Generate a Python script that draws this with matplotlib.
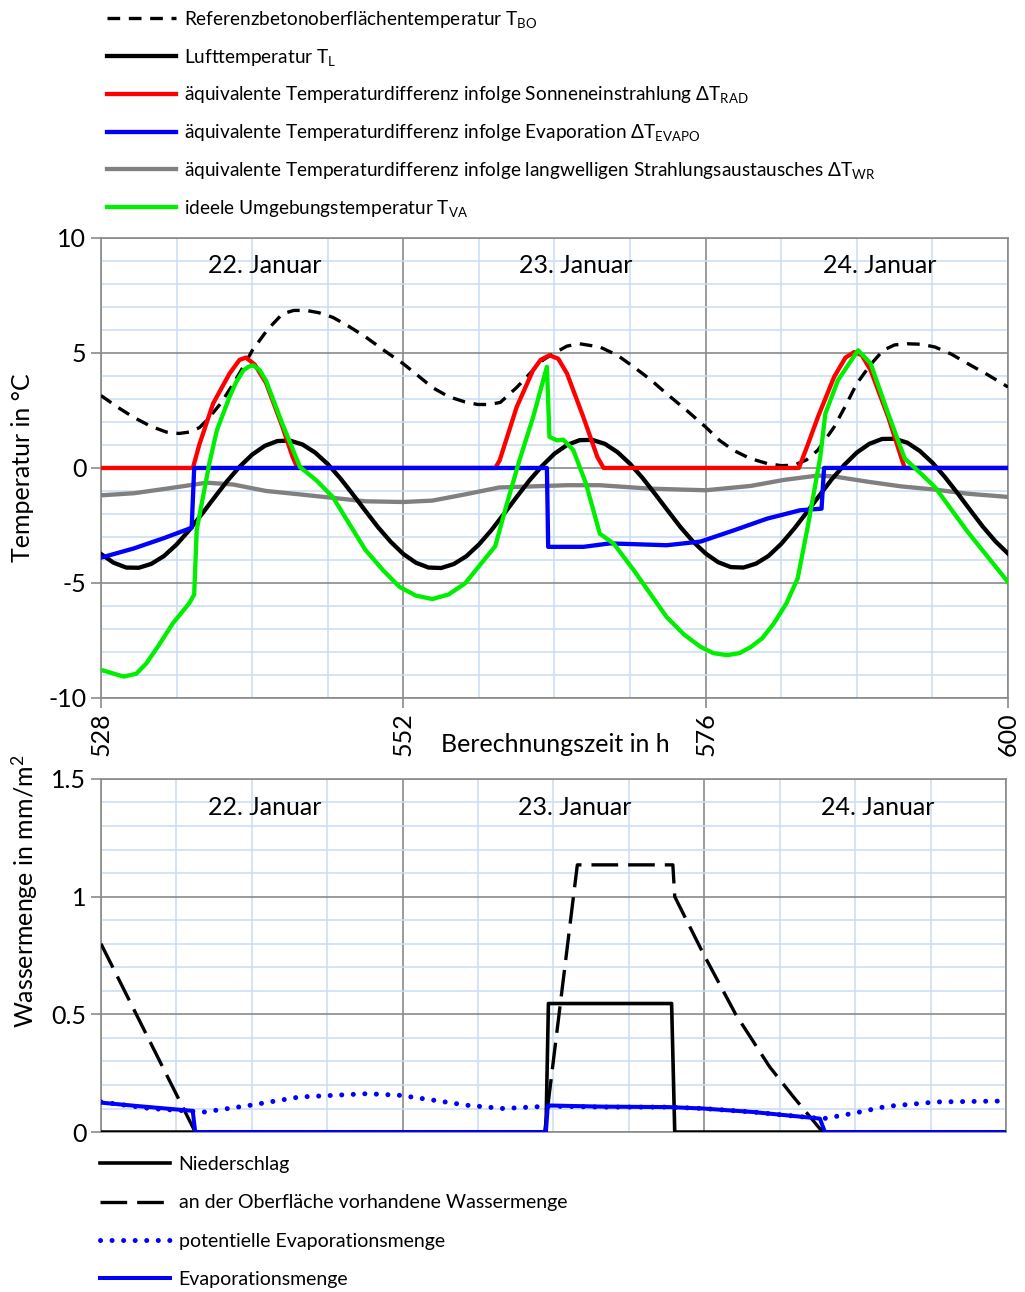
import numpy as np
import matplotlib
matplotlib.use('Agg')
import matplotlib.pyplot as plt
from matplotlib.ticker import MultipleLocator, FormatStrFormatter

plt.rcParams['font.family'] = ['Lato', 'DejaVu Sans']
plt.rcParams['mathtext.fontset'] = 'custom'
plt.rcParams['mathtext.rm'] = 'Lato'
plt.rcParams['mathtext.it'] = 'Lato:italic'
plt.rcParams['mathtext.bf'] = 'Lato:bold'
plt.rcParams['axes.unicode_minus'] = False

#--------------------------------------------------------------------------
# Temperaturen (oben)
h_bo = [528, 529.3, 530.6, 532, 533.2, 534.2, 535, 535.8, 536.4, 537.5, 538.5, 539.3, 540, 541.2,
        542.4, 543.3, 544.3, 545.3, 546.4, 547.7, 549, 550.5, 552, 553.2, 554.3, 555.6, 556.9,
        557.9, 558.8, 559.7, 561, 562.3, 563.1, 563.9, 565, 566, 567.6, 569, 570.3, 571.6, 572.9,
        574.5, 576, 577.1, 578.2, 579.5, 580.9, 582, 583, 584, 584.9, 586.2, 587.1, 588, 589.1,
        590.1, 591, 592, 593.1, 594.2, 595.5, 596.8, 598.4, 600]
t_bo = [3.15, 2.65, 2.2, 1.8, 1.56, 1.5, 1.56, 1.75, 2.07, 2.8, 3.66, 4.4, 5.1, 6.0,
        6.7, 6.85, 6.85, 6.75, 6.55, 6.15, 5.7, 5.1, 4.53, 4.0, 3.5, 3.1, 2.87,
        2.76, 2.76, 2.85, 3.5, 4.25, 4.7, 4.97, 5.3, 5.4, 5.26, 4.9, 4.39, 3.85, 3.23,
        2.5, 1.78, 1.2, 0.77, 0.42, 0.19, 0.1, 0.12, 0.35, 0.77, 1.78, 2.7, 3.67, 4.5,
        5.12, 5.35, 5.4, 5.38, 5.26, 4.95, 4.54, 4.05, 3.52]

h_l = list(range(528, 601))
t_l = [-3.74, -4.12, -4.33, -4.34, -4.17, -3.83, -3.33, -2.71, -2.01, -1.29, -0.58, 0.05,
       0.58, 0.96, 1.17, 1.19, 1.02, 0.67, 0.17, -0.45, -1.15, -1.87, -2.58, -3.21,
       -3.74, -4.12, -4.33, -4.35, -4.18, -3.84, -3.33, -2.70, -1.99, -1.26, -0.55, 0.08,
       0.62, 1.00, 1.21, 1.22, 1.05, 0.69, 0.18, -0.44, -1.14, -1.86, -2.57, -3.20,
       -3.72, -4.10, -4.31, -4.33, -4.16, -3.82, -3.30, -2.66, -1.95, -1.22, -0.50, 0.13,
       0.67, 1.05, 1.26, 1.27, 1.10, 0.74, 0.23, -0.40, -1.10, -1.83, -2.55, -3.19, -3.72]

h_rad = [528, 535.3, 535.8, 536.9, 538.2, 539.0, 539.5, 540.2, 541.1, 542.4, 543.2, 543.6,
         559.3, 559.65, 561, 562.3, 562.9, 563.6, 564.3, 565, 566.3, 567.4, 567.9,
         583.4, 584.1, 584.9, 586.2, 587.1, 587.8, 588.4, 589.1, 590.5, 591.5, 591.8, 600]
t_rad = [0, 0, 1.0, 2.8, 4.1, 4.7, 4.8, 4.5, 3.7, 1.8, 0.5, 0,
         0, 0.33, 2.65, 4.25, 4.7, 4.9, 4.75, 4.1, 2.2, 0.48, 0,
         0, 1.0, 2.2, 3.96, 4.8, 5.04, 4.9, 4.25, 2.2, 0.5, 0, 0]

h_evapo = [528, 530.6, 533, 535.2, 535.4, 563.4, 563.5, 566.3, 568.4, 572.9, 575.6, 578.2,
           580.9, 583.5, 585.2, 585.4, 600]
t_evapo = [-3.9, -3.5, -3.05, -2.6, 0, 0, -3.43, -3.43, -3.28, -3.36, -3.2, -2.72,
           -2.2, -1.84, -1.77, 0, 0]

h_wr = [528, 530.6, 533.2, 536.4, 538.5, 541.1, 543.8, 546.4, 549, 552, 554.3, 556.9, 559.6,
        562.3, 565, 567.6, 571.6, 576, 579.6, 582.2, 584.9, 586.2, 588.9, 591.5, 594.2, 596.8, 600]
t_wr = [-1.19, -1.1, -0.9, -0.64, -0.72, -1.0, -1.15, -1.3, -1.45, -1.48, -1.42, -1.15, -0.85,
        -0.8, -0.75, -0.75, -0.9, -0.97, -0.78, -0.52, -0.33, -0.37, -0.6, -0.8, -0.94, -1.12, -1.26]

h_va = [528, 529.8, 530.8, 531.6, 532.6, 533.7, 535.0, 535.4, 535.6, 536.6, 537.2, 538.2, 538.7,
        539.3, 539.7, 540.1, 540.6, 541.1, 542.4, 543.8, 545.1, 546.4, 547.7, 549, 550.4, 551.7,
        553, 554.3, 555.6, 556.9, 559.3, 560.2, 561.2, 562.3, 563.4, 563.6, 564.2, 564.7, 565.5,
        566.5, 567.6, 568.7, 570.3, 572.9, 574.3, 575.6, 576.6, 577.7, 578.7, 579.6, 580.5, 581.4,
        582.4, 583.3, 584.1, 585.1, 585.5, 586.5, 588.1, 589.1, 590.4, 591.8, 593.1, 594.2, 596.8, 600]
t_va = [-8.78, -9.07, -8.95, -8.5, -7.7, -6.76, -5.89, -5.5, -2.7, 0.19, 1.64, 3.08, 3.7,
        4.24, 4.4, 4.46, 4.25, 3.8, 1.92, 0.04, -0.54, -1.26, -2.42, -3.57, -4.45, -5.17,
        -5.55, -5.7, -5.5, -5.02, -3.4, -1.6, 0.3, 2.2, 4.4, 1.35, 1.2, 1.23, 0.77,
        -0.68, -2.86, -3.29, -4.45, -6.48, -7.25, -7.78, -8.05, -8.14, -8.05, -7.78, -7.4, -6.77,
        -5.9, -4.81, -2.57, 0.48, 2.36, 3.81, 5.12, 4.54, 2.5, 0.41, -0.25, -0.83, -2.78, -4.96]

# Wassermengen (unten)
h_nied = [528, 563.4, 563.6, 573.4, 573.65, 600]
w_nied = [0, 0, 0.546, 0.546, 0, 0]

h_surf = [528, 535.5, 563.3, 565.9, 573.5, 573.65, 575.9, 578.5, 581.2, 583.1, 585.2, 585.5, 600]
w_surf = [0.8, 0, 0, 1.135, 1.135, 1.0, 0.76, 0.50, 0.277, 0.149, 0.014, 0, 0]

h_pot = [528, 531.9, 536.2, 539.9, 543.8, 549.2, 551.8, 554.5, 557.1, 560, 563.6, 567.9, 573.2,
         575.9, 579.9, 583.9, 585.5, 587.9, 590.5, 594.5, 600]
w_pot = [0.128, 0.1, 0.085, 0.114, 0.149, 0.163, 0.156, 0.135, 0.114, 0.1, 0.11, 0.106, 0.106,
         0.1, 0.085, 0.064, 0.057, 0.08, 0.109, 0.128, 0.132]

h_evap = [528, 531, 535.3, 535.5, 563.4, 563.55, 567.9, 573.2, 575.9, 579.9, 583.9, 585.2, 585.6, 600]
w_evap = [0.125, 0.11, 0.09, 0, 0, 0.113, 0.108, 0.106, 0.1, 0.085, 0.064, 0.057, 0, 0]

days = ['22. Januar', '23. Januar', '24. Januar']
day_x = [541.0, 565.7, 589.8]
#--------------------------------------------------------------------------

gray = '#8a8a8a'
light = '#c9dcf1'
fs = 18

fig = plt.figure(figsize=(10.25, 12.92), dpi=100)
ax1 = fig.add_axes([0.0985, 0.4598, 0.8849, 0.356])
ax2 = fig.add_axes([0.0985, 0.1238, 0.8829, 0.2733])

lw = 3.1
l_bo, = ax1.plot(h_bo, t_bo, color='k', lw=2.4, dashes=(3.8, 2.6),
                 label='Referenzbetonoberflächentemperatur T$_{\\mathrm{BO}}$', zorder=3)
l_wr, = ax1.plot(h_wr, t_wr, color='#808080', lw=lw,
                 label='äquivalente Temperaturdifferenz infolge langwelligen Strahlungsaustausches ΔT$_{\\mathrm{WR}}$', zorder=3)
l_l, = ax1.plot(h_l, t_l, color='k', lw=lw, label='Lufttemperatur T$_{\\mathrm{L}}$', zorder=4)
l_rad, = ax1.plot(h_rad, t_rad, color='#ff0000', lw=lw,
                  label='äquivalente Temperaturdifferenz infolge Sonneneinstrahlung ΔT$_{\\mathrm{RAD}}$', zorder=5)
l_evapo, = ax1.plot(h_evapo, t_evapo, color='#0000ff', lw=lw,
                    label='äquivalente Temperaturdifferenz infolge Evaporation ΔT$_{\\mathrm{EVAPO}}$', zorder=6)
l_va, = ax1.plot(h_va, t_va, color='#00ee00', lw=lw, label='ideele Umgebungstemperatur T$_{\\mathrm{VA}}$', zorder=7)

l_nied, = ax2.plot(h_nied, w_nied, color='k', lw=2.6, label='Niederschlag', zorder=3)
l_surf, = ax2.plot(h_surf, w_surf, color='k', lw=2.4, dashes=(8.0, 3.0),
                   label='an der Oberfläche vorhandene Wassermenge', zorder=3)
l_pot, = ax2.plot(h_pot, w_pot, color='#0000ff', lw=3.6, dashes=(0.01, 2.3), dash_capstyle='round',
                  label='potentielle Evaporationsmenge', zorder=4)
l_evap, = ax2.plot(h_evap, w_evap, color='#0000ff', lw=2.9, label='Evaporationsmenge', zorder=5)

for ax in [ax1, ax2]:
    ax.set_xlim(528, 600)
    ax.xaxis.set_major_locator(MultipleLocator(24))
    ax.xaxis.set_minor_locator(MultipleLocator(6))
    ax.grid(which='major', color=gray, lw=1.2, zorder=1)
    ax.grid(which='minor', color=light, lw=1.1, zorder=0)
    ax.set_axisbelow(True)
    for s in ax.spines.values():
        s.set_color(gray)
        s.set_linewidth(1.2)
    ax.tick_params(which='major', labelsize=fs, color=gray, length=7, width=1.2)
    ax.tick_params(which='minor', length=0)

ax1.set_ylim(-10, 10)
ax1.yaxis.set_major_locator(MultipleLocator(5))
ax1.yaxis.set_minor_locator(MultipleLocator(1))
for lab in ax1.get_xticklabels():
    lab.set_rotation(90)

ax2.set_ylim(0, 1.5)
ax2.yaxis.set_major_locator(MultipleLocator(0.5))
ax2.yaxis.set_minor_locator(MultipleLocator(0.1))
ax2.tick_params(axis='x', which='major', length=0, labelbottom=False)
ax2.yaxis.set_major_formatter(FormatStrFormatter('%g'))

for d, x in zip(days, day_x):
    ax1.text(x, 8.8, d, fontsize=fs, ha='center', va='center', zorder=8)
    ax2.text(x, 1.38, d, fontsize=fs, ha='center', va='center', zorder=8)

fig.text(0.0215, 0.6378, 'Temperatur in °C', rotation=90, fontsize=fs, ha='center', va='center')
fig.text(0.0244, 0.3104, 'Wassermenge in mm/m$^{2}$', rotation=90, fontsize=fs, ha='center', va='center')
fig.text(0.5415, 0.4241, 'Berechnungszeit in h', fontsize=fs, ha='center', va='center')

fig.legend(handles=[l_bo, l_l, l_rad, l_evapo, l_wr, l_va], loc='upper left',
           bbox_to_anchor=(107/1025, 1 - 9/1292), frameon=False, fontsize=13.7,
           handlelength=3.6, handletextpad=0.45, labelspacing=0.88, borderpad=0, borderaxespad=0)
fig.legend(handles=[l_nied, l_surf, l_pot, l_evap], loc='upper left',
           bbox_to_anchor=(100/1025, 1 - 1156/1292), frameon=False, fontsize=14,
           handlelength=3.6, handletextpad=0.45, labelspacing=1.1, borderpad=0, borderaxespad=0)

plt.savefig('out.png', dpi=100)
